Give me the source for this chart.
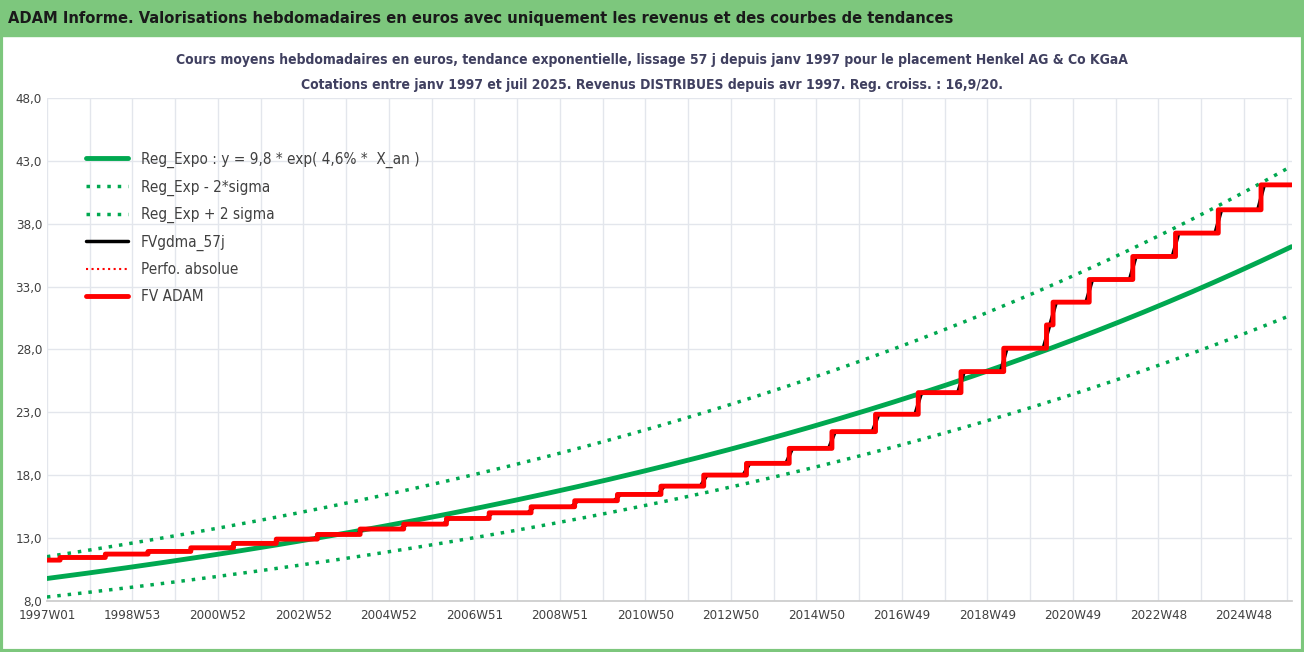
import numpy as np, pandas as pd, seaborn as sns, matplotlib
matplotlib.use("Agg")
import matplotlib.pyplot as plt
from matplotlib.patches import Rectangle

# --- data ---
step_years = [1997.0, 1997.3, 1998.36, 1999.35, 2000.34, 2001.34, 2002.33, 2003.29, 2004.3, 2005.3,
              2006.3, 2007.3, 2008.28, 2009.3, 2010.3, 2011.3, 2012.3, 2013.3, 2014.3, 2015.3,
              2016.3, 2017.3, 2018.3, 2019.3, 2020.3, 2020.45, 2021.3, 2022.3, 2023.3, 2024.3, 2025.3]
step_values = [11.26, 11.47, 11.74, 11.95, 12.24, 12.59, 12.93, 13.30, 13.73, 14.12,
               14.57, 15.02, 15.50, 15.98, 16.48, 17.14, 18.02, 18.95, 20.14, 21.47,
               22.85, 24.57, 26.24, 28.10, 29.95, 31.76, 33.56, 35.39, 37.25, 39.10, 41.08]
reg_a, reg_b = 9.8, 0.045
band_low, band_high = 0.85, 1.177
n_weeks = 1515
tick_labels = ["1997W01", "1998W53", "2000W52", "2002W52", "2004W52", "2006W51", "2008W51",
               "2010W50", "2012W50", "2014W50", "2016W49", "2018W49", "2020W49", "2022W48", "2024W48"]
y_ticks = [8, 13, 18, 23, 28, 33, 38, 43, 48]

weeks = np.arange(n_weeks)
years = 1997 + weeks * 7 / 365.25
idx = np.searchsorted(step_years, years, side="right") - 1
fv = np.array(step_values)[idx]
df = pd.DataFrame({"w": weeks, "t": years - 1997, "fv": fv})
df["reg"] = reg_a * np.exp(reg_b * df.t)
df["lo"] = df.reg * band_low
df["hi"] = df.reg * band_high
df["gdma"] = df.fv.rolling(8, center=True, min_periods=1).mean()

sns.set_theme(style="whitegrid")
plt.rcParams['font.family'] = ['DejaVu Sans']
plt.rcParams['font.stretch'] = 'condensed'

fig = plt.figure(figsize=(13.04, 6.52), dpi=100)
fig.patches.append(Rectangle((0, 0.945), 1, 0.055, transform=fig.transFigure, color="#7dc77d", zorder=0))
fig.patches.append(Rectangle((0.001, 0.002), 0.998, 0.996, transform=fig.transFigure, fill=False, ec="#7dc77d", lw=3))
fig.text(0.006, 0.972, "ADAM Informe. Valorisations hebdomadaires en euros avec uniquement les revenus et des courbes de tendances",
         fontsize=11.8, fontweight="bold", va="center", color="#1a1a1a")
fig.text(0.5, 0.902, "Cours moyens hebdomadaires en euros, tendance exponentielle, lissage 57 j depuis janv 1997 pour le placement Henkel AG & Co KGaA",
         ha="center", fontsize=10, fontweight="bold", color="#404060")
fig.text(0.5, 0.864, "Cotations entre janv 1997 et juil 2025. Revenus DISTRIBUES depuis avr 1997. Reg. croiss. : 16,9/20.",
         ha="center", fontsize=10, fontweight="bold", color="#404060")

ax = fig.add_axes([0.036, 0.078, 0.955, 0.772])
g = "#00a850"
sns.lineplot(data=df, x="w", y="reg", ax=ax, color=g, lw=3.5, label="Reg_Expo : y = 9,8 * exp( 4,6% *  X_an )")
sns.lineplot(data=df, x="w", y="lo", ax=ax, color=g, lw=2.5, ls=(0, (1, 2)), label="Reg_Exp - 2*sigma")
sns.lineplot(data=df, x="w", y="hi", ax=ax, color=g, lw=2.5, ls=(0, (1, 2)), label="Reg_Exp + 2 sigma")
sns.lineplot(data=df, x="w", y="gdma", ax=ax, color="black", lw=2.5, label="FVgdma_57j", zorder=2)
sns.lineplot(data=df, x="w", y="fv", ax=ax, color="red", lw=1.5, ls=":", label="Perfo. absolue", zorder=2)
sns.lineplot(data=df, x="w", y="fv", ax=ax, color="red", lw=3.5, label="FV ADAM", drawstyle="steps-post", zorder=3)

ax.set_xlim(0, n_weeks)
ax.set_ylim(8, 48)
ax.set_xticks(np.arange(len(tick_labels)) * 104)
ax.set_xticks(np.arange(2 * len(tick_labels)) * 52, minor=True)
ax.set_xticklabels(tick_labels, fontsize=9.5, color="#404040")
ax.set_yticks(y_ticks)
ax.set_yticklabels([f"{v:.1f}".replace(".", ",") for v in y_ticks], fontsize=9.5, color="#404040")
ax.grid(True, which="both", color="#e3e6ec", lw=1)
ax.set_xlabel(""); ax.set_ylabel("")
for s in ["top", "right", "left"]:
    ax.spines[s].set_visible(False)
ax.spines["bottom"].set_color("#cccccc")
ax.tick_params(axis="x", which="both", length=0, pad=6)
ax.tick_params(axis="y", length=0)
leg = ax.legend(loc="upper left", bbox_to_anchor=(0.02, 0.92),
                frameon=False, fontsize=11, handlelength=2.8, labelspacing=0.75)
for t in leg.get_texts():
    t.set_color("#404040")
fig.savefig("out.png", dpi=100)
